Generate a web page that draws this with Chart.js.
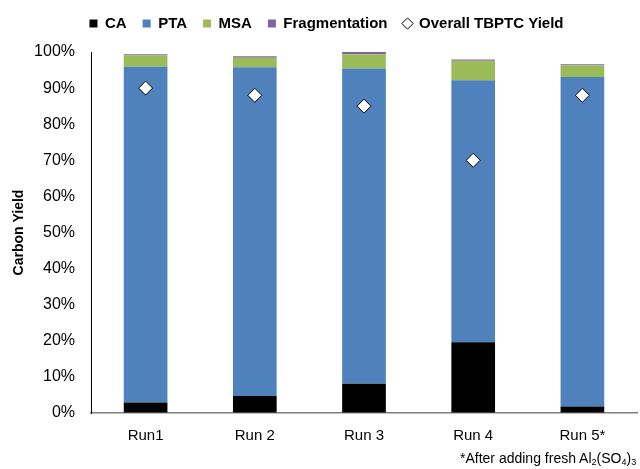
<!DOCTYPE html>
<html>
<head>
<meta charset="utf-8">
<script src="https://cdn.jsdelivr.net/npm/chart.js@4"></script>
<style>
  html, body { margin: 0; padding: 0; background: #fff; }
  #wrap { position: relative; width: 640px; height: 469px; }
  #foot { position: absolute; left: 460px; top: 450px; font: 14px "Liberation Sans", Arial, sans-serif; color: #000; white-space: nowrap; }
  #foot sub { font-size: 9px; vertical-align: -2px; }
</style>
</head>
<body>
<div id="wrap">
  <canvas id="c" width="640" height="469"></canvas>
  <div id="foot">*After adding fresh Al<sub>2</sub>(SO<sub>4</sub>)<sub>3</sub></div>
</div>
<script>
const categories = ["Run1", "Run 2", "Run 3", "Run 4", "Run 5*"];
const caValues = [2.9, 4.7, 8.1, 19.6, 1.8];
const ptaValues = [93.0, 91.1, 87.3, 72.6, 91.3];
const msaValues = [3.2, 2.6, 4.0, 5.4, 3.2];
const fragValues = [0.3, 0.4, 0.6, 0.3, 0.3];
const yieldValues = [90, 88, 85, 70, 88];
const yTicks = [0, 10, 20, 30, 40, 50, 60, 70, 80, 90, 100];

const FONT = '"Liberation Sans", Arial, sans-serif';

// place the legend row near the top edge, independent of the plot-area top
const legendPlace = {
  id: 'legendPlace',
  afterLayout(chart) {
    const lg = chart.legend;
    if (!lg) return;
    const h = lg.bottom - lg.top;
    lg.top = 0;
    lg.bottom = h;
    lg.left += 8;
    lg.right += 8;
  }
};

function barDs(label, data, color) {
  return {
    type: 'bar', label, data,
    backgroundColor: color, borderWidth: 0,
    stack: 's', order: 2,
    categoryPercentage: 1.0, barPercentage: 0.40,
    pointStyle: 'rect'
  };
}

new Chart(document.getElementById('c'), {
  data: {
    labels: categories,
    datasets: [
      barDs('CA', caValues, '#000000'),
      barDs('PTA', ptaValues, '#4F81BD'),
      barDs('MSA', msaValues, '#9BBB59'),
      barDs('Fragmentation', fragValues, '#8064A2'),
      {
        type: 'line', label: 'Overall TBPTC Yield', data: yieldValues,
        showLine: false, order: 0,
        pointStyle: 'rectRot', pointRadius: 7, pointHoverRadius: 7,
        pointBackgroundColor: '#ffffff', pointBorderColor: '#000000', pointBorderWidth: 1,
        backgroundColor: '#ffffff', borderColor: '#000000', borderWidth: 1
      }
    ]
  },
  options: {
    responsive: false,
    animation: false,
    layout: { autoPadding: false, padding: { top: 0, right: 3, left: 0, bottom: 0 } },
    plugins: {
      legend: {
        position: 'top', align: 'center',
        labels: {
          usePointStyle: true, boxWidth: 8, boxHeight: 8,
          padding: 16, color: '#000',
          font: { family: FONT, size: 15, weight: 'bold' },
          sort: (a, b) => a.datasetIndex - b.datasetIndex
        }
      },
      tooltip: { enabled: false }
    },
    scales: {
      x: {
        stacked: true,
        offset: true,
        grid: { display: true, drawOnChartArea: false, drawTicks: false, color: 'rgba(0,0,0,0)' },
        border: { display: true, color: '#808080', width: 1.5 },
        ticks: { color: '#000', padding: 14, font: { family: FONT, size: 15 } },
        afterFit(s) { s.height = 56; s.paddingLeft = 0; s.paddingRight = 0; }
      },
      y: {
        stacked: true,
        min: 0, max: 100,
        afterBuildTicks(s) { s.ticks = yTicks.map(v => ({ value: v })); },
        grid: { display: true, drawOnChartArea: false, drawTicks: false, color: 'rgba(0,0,0,0)' },
        border: { display: true, color: '#000', width: 1 },
        ticks: { color: '#000', padding: 16, font: { family: FONT, size: 16 }, callback: v => v + '%' },
        title: { display: true, text: 'Carbon Yield', color: '#000', padding: { top: 11, bottom: 0 }, font: { family: FONT, size: 14, weight: 'bold' } },
        afterFit(s) { s.width = 91; s.paddingTop = 52; }
      }
    }
  },
  plugins: [legendPlace]
});
</script>
</body>
</html>
